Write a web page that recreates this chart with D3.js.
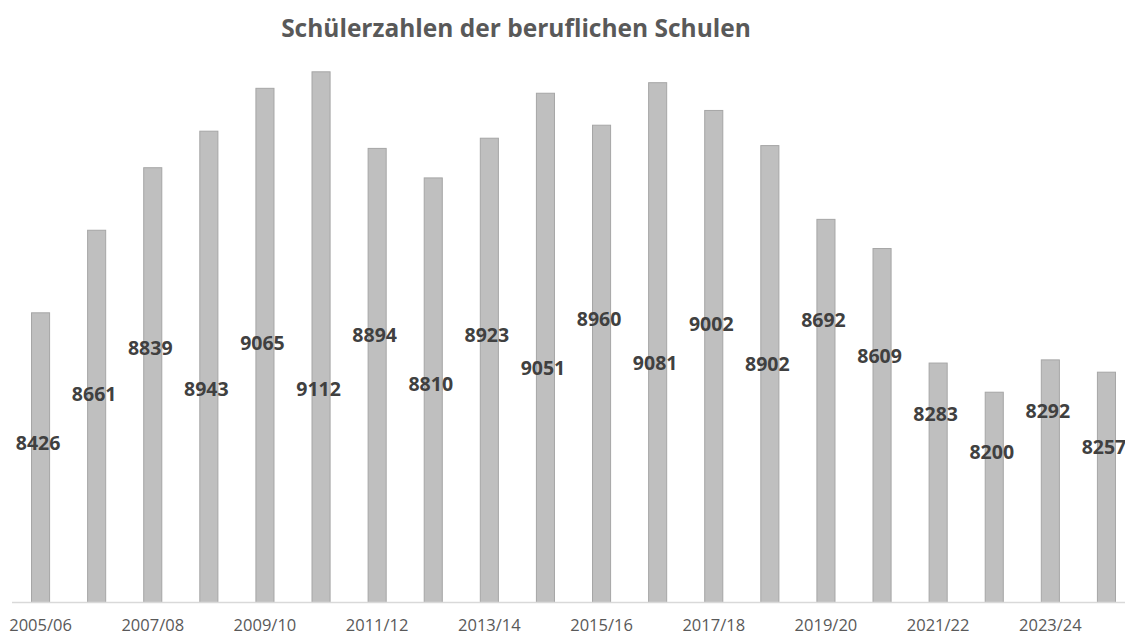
<!DOCTYPE html>
<html>
<head>
<meta charset="utf-8">
<script src="https://cdn.jsdelivr.net/npm/d3@7"></script>
<style>
  html, body { margin: 0; padding: 0; background: #fff; }
  svg { display: block; font-family: 'Open Sans', 'Noto Sans', sans-serif; }
</style>
</head>
<body>
<div id="chart"></div>
<script>
const years = ['2005/06','2006/07','2007/08','2008/09','2009/10','2010/11','2011/12','2012/13','2013/14','2014/15',
  '2015/16','2016/17','2017/18','2018/19','2019/20','2020/21','2021/22','2022/23','2023/24','2024/25']
const pupils = [8426, 8661, 8839, 8943, 9065, 9112, 8894, 8810, 8923, 9051,
  8960, 9081, 9002, 8902, 8692, 8609, 8283, 8200, 8292, 8257]
const yDomain = [7600, 9200]

// label centres as placed in the original (px), not derived from the values
const labelCenterY = [443, 394, 348, 389, 343, 389, 335, 384, 335, 368,
  319, 363, 324, 364, 320, 356, 414, 452, 411, 447]

const width = 1125, height = 635
const x0 = 12.5, x1 = 1134.5, baseY = 602.5, topY = 40.4

const svg = d3.select('#chart').append('svg')
  .attr('width', width)
  .attr('height', height)

const x = d3.scaleBand()
  .domain(years)
  .range([x0, x1])
  .paddingInner(0.66)
  .paddingOuter(0.33)

const y = d3.scaleLinear()
  .domain(yDomain)
  .range([baseY, topY])

svg.append('text')
  .attr('x', 516)
  .attr('y', 37)
  .attr('text-anchor', 'middle')
  .attr('fill', '#595959')
  .style('font-size', '24.5px')
  .style('font-weight', 'bold')
  .text('Schülerzahlen der beruflichen Schulen')

svg.append('g').selectAll('rect')
  .data(pupils)
  .enter().append('rect')
  .attr('x', (d, i) => x(years[i]) + 0.5)
  .attr('y', d => y(d) + 0.5)
  .attr('width', x.bandwidth() - 1)
  .attr('height', d => baseY - y(d) - 0.5)
  .attr('fill', '#bfbfbf')
  .attr('stroke', '#a6a6a6')
  .attr('stroke-width', 1)

const axis = svg.append('g')
  .attr('transform', `translate(0, ${baseY})`)
  .call(d3.axisBottom(x)
    .tickValues(years.filter((d, i) => i % 2 === 0))
    .tickSize(0)
    .tickPadding(17))
axis.select('.domain').attr('stroke', '#d9d9d9').attr('stroke-width', 1.5)
  .attr('d', `M${x0 - 0.5},0H${width}`)
axis.selectAll('text')
  .attr('fill', '#595959')
  .style('font-size', '16.5px')
  .style('font-family', "'Open Sans', sans-serif")

svg.append('g').selectAll('text')
  .data(pupils)
  .enter().append('text')
  .attr('x', (d, i) => x(years[i]) + x.bandwidth() / 2 - 2.5)
  .attr('y', (d, i) => labelCenterY[i])
  .attr('dy', '0.36em')
  .attr('text-anchor', 'middle')
  .attr('fill', '#404040')
  .style('font-size', '19.5px')
  .style('font-weight', 'bold')
  .text(d => d)
</script>
</body>
</html>
